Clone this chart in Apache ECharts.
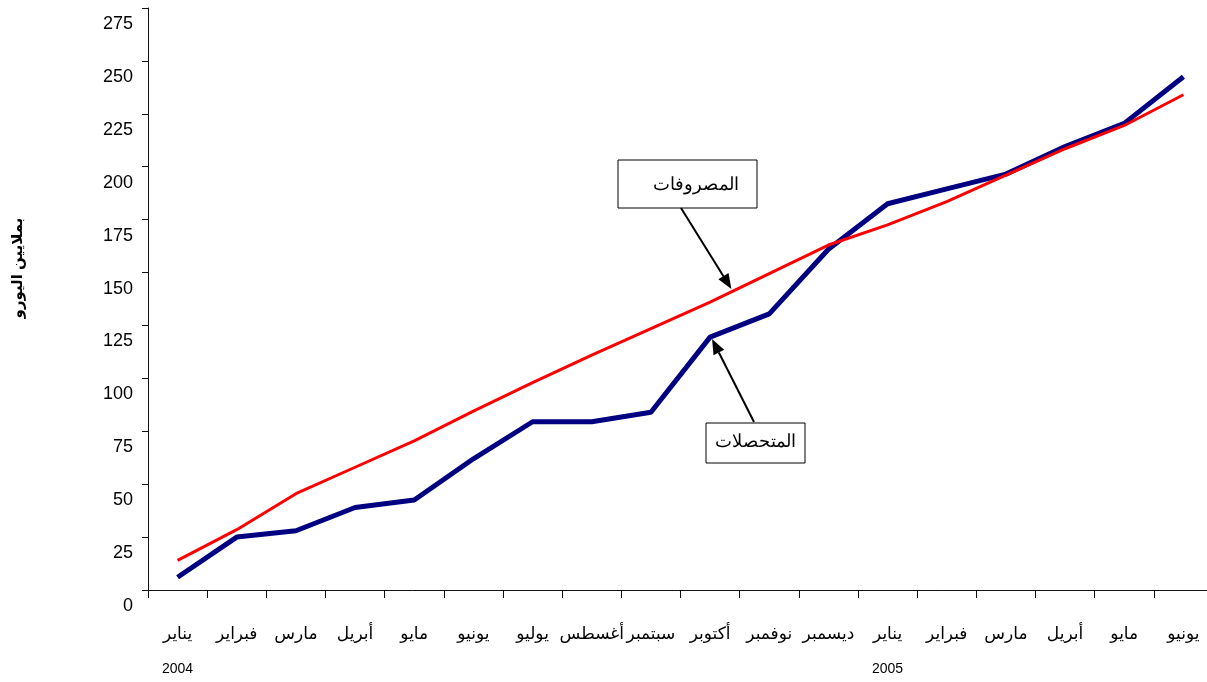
<!DOCTYPE html>
<html>
<head>
<meta charset="utf-8">
<script src="https://cdn.jsdelivr.net/npm/echarts@6/dist/echarts.min.js"></script>
<style>
html,body{margin:0;padding:0;background:#fff;}
#chart{width:1207px;height:682px;}
</style>
</head>
<body>
<div id="chart"></div>
<script>
// ---- data ----
const months = ['يناير','فبراير','مارس','أبريل','مايو','يونيو','يوليو','أغسطس','سبتمبر','أكتوبر','نوفمبر','ديسمبر','يناير','فبراير','مارس','أبريل','مايو','يونيو'];
const years = ['2004','','','','','','','','','','','','2005','','','','',''];
const receipts = [6, 25, 28, 39, 42.5, 62, 79.5, 79.5, 84, 119.5, 130.5, 161, 182.5, 189.5, 196.5, 209.5, 220.5, 242.5]; // المتحصلات
const expenses = [14, 28.5, 45.5, 58, 70.5, 84.5, 98, 111, 123.5, 136, 149.5, 163, 172.5, 183.5, 196, 208.5, 219.5, 234]; // المصروفات
const yTicks = {min: 0, max: 275, interval: 25};
const yTitle = 'بملايين اليورو';
const labelReceipts = 'المتحصلات';
const labelExpenses = 'المصروفات';

const chart = echarts.init(document.getElementById('chart'));
const axisColor = '#111';
chart.setOption({
  animation: false,
  backgroundColor: '#fff',
  grid: {left: 148, width: 1065, top: 8, bottom: 92, outerBoundsMode: 'none', containLabel: false},
  xAxis: [{
    type: 'category',
    data: months,
    boundaryGap: true,
    axisLine: {lineStyle: {color: axisColor, width: 1}},
    axisTick: {show: true, length: 8, inside: false, alignWithLabel: false, lineStyle: {color: axisColor}},
    axisLabel: {interval: 0, margin: 36, color: '#000', fontSize: 17, fontFamily: 'Liberation Sans, DejaVu Sans, sans-serif'},
    splitLine: {show: false}
  }, {
    type: 'category',
    data: years,
    position: 'bottom',
    boundaryGap: true,
    axisLine: {show: false},
    axisTick: {show: false},
    axisLabel: {interval: 0, margin: 72, color: '#000', fontSize: 14, fontFamily: 'Liberation Sans, Arial, sans-serif'},
    splitLine: {show: false}
  }],
  yAxis: {
    type: 'value',
    min: yTicks.min, max: yTicks.max, interval: yTicks.interval,
    axisLine: {show: true, lineStyle: {color: axisColor, width: 1}},
    axisTick: {show: true, length: 6, lineStyle: {color: axisColor}},
    axisLabel: {margin: 15, color: '#000', fontSize: 18, fontFamily: 'Liberation Sans, Arial, sans-serif', verticalAlign: 'top', padding: [7, 0, 0, 0]},
    splitLine: {show: false}
  },
  series: [{
    name: labelReceipts,
    type: 'line',
    data: receipts,
    symbol: 'none',
    lineStyle: {color: '#000080', width: 5},
    z: 2
  }, {
    name: labelExpenses,
    type: 'line',
    data: expenses,
    symbol: 'none',
    lineStyle: {color: '#ff0000', width: 3},
    z: 3
  }]
});

// annotation arrows pointing at data positions
function arrow(x1, y1, x2, y2) {
  const ang = Math.atan2(y2 - y1, x2 - x1);
  const L = 15, W = 6;
  const bx = x2 - L * Math.cos(ang), by = y2 - L * Math.sin(ang);
  const px = -Math.sin(ang) * W, py = Math.cos(ang) * W;
  return [
    {type: 'line', shape: {x1: x1, y1: y1, x2: bx, y2: by}, style: {stroke: '#000', lineWidth: 2}, z: 20},
    {type: 'polygon', shape: {points: [[x2, y2], [bx + px, by + py], [bx - px, by - py]]}, style: {fill: '#000'}, z: 20}
  ];
}
// tip on expenses line between Oct and Nov
const pOct = chart.convertToPixel({seriesIndex: 1}, [9, expenses[9]]);
const pNov = chart.convertToPixel({seriesIndex: 1}, [10, expenses[10]]);
const t = 0.36;
const tipE = [pOct[0] + (pNov[0] - pOct[0]) * t, pOct[1] + (pNov[1] - pOct[1]) * t - 3];
const tipR = chart.convertToPixel({seriesIndex: 0}, [9, receipts[9]]);

const g = [];
g.push({type: 'rect', shape: {x: 618, y: 160, width: 139, height: 48}, style: {fill: '#fff', stroke: '#000', lineWidth: 1}, z: 19});
g.push({type: 'text', style: {x: 696, y: 185, text: labelExpenses, fill: '#000', font: '18px "Liberation Serif", "DejaVu Serif", serif', textAlign: 'center', textVerticalAlign: 'middle'}, z: 21});
g.push.apply(g, arrow(681, 208, tipE[0], tipE[1]));
g.push({type: 'rect', shape: {x: 706, y: 423, width: 99, height: 40}, style: {fill: '#fff', stroke: '#000', lineWidth: 1}, z: 19});
g.push({type: 'text', style: {x: 755, y: 442, text: labelReceipts, fill: '#000', font: '18px "Liberation Serif", "DejaVu Serif", serif', textAlign: 'center', textVerticalAlign: 'middle'}, z: 21});
g.push.apply(g, arrow(754, 422, tipR[0] + 2, tipR[1] + 2));
g.push({type: 'text', x: 18, y: 268, rotation: Math.PI / 2, style: {x: 0, y: 0, text: yTitle, fill: '#000', font: 'bold 15px "Liberation Sans", "DejaVu Sans", sans-serif', textAlign: 'center', textVerticalAlign: 'middle'}, z: 21});
chart.setOption({graphic: g});
</script>
</body>
</html>
